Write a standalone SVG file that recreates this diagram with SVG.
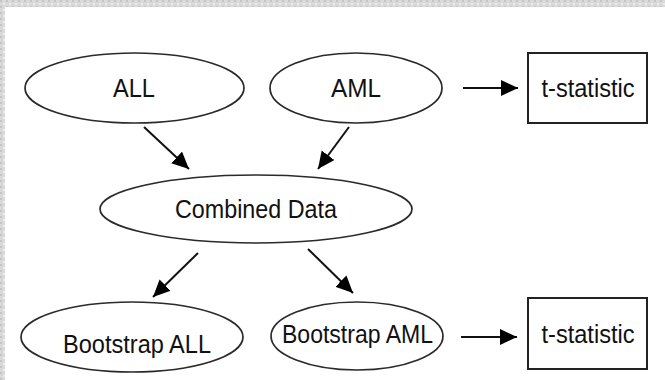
<svg xmlns="http://www.w3.org/2000/svg" width="665" height="380" viewBox="0 0 665 380">
  <defs>
    <pattern id="tex" width="6" height="6" patternUnits="userSpaceOnUse">
      <rect width="6" height="6" fill="#d9d9d9"/>
      <rect x="0" y="0" width="2" height="2" fill="#c4c4c4"/>
      <rect x="3" y="3" width="2" height="2" fill="#ececec"/>
    </pattern>
    <marker id="ah" markerUnits="userSpaceOnUse" markerWidth="19" markerHeight="17" refX="17" refY="8" orient="auto">
      <path d="M0,0 L17,8 L0,16 z" fill="#000"/>
    </marker>
    <style>
      .node ellipse { fill: #fff; stroke: #2a2a2a; stroke-width: 1.7; }
      .node rect { fill: #fff; stroke: #222; stroke-width: 2; }
      .node text { font-family: "Liberation Sans", Arial, sans-serif; font-size: 25px; fill: #111; text-anchor: middle; }
      #connectors line { stroke: #111; stroke-width: 2; marker-end: url(#ah); }
    </style>
  </defs>

  <rect x="0" y="0" width="665" height="380" fill="#fff"/>
  <rect x="0" y="0" width="665" height="7" fill="url(#tex)"/>
  <rect x="0" y="0" width="5" height="380" fill="url(#tex)"/>

  <g id="connectors">
    <line x1="144" y1="127" x2="189" y2="169"/>
    <line x1="349" y1="127" x2="318" y2="169"/>
    <line x1="198" y1="253" x2="153" y2="297"/>
    <line x1="308" y1="249" x2="353" y2="293"/>
    <line x1="463" y1="88" x2="518" y2="88"/>
    <line x1="461" y1="337" x2="517" y2="337"/>
  </g>

  <g id="all" class="node">
    <ellipse cx="134.5" cy="88" rx="109.5" ry="35"/>
    <text x="134" y="97" textLength="42" lengthAdjust="spacingAndGlyphs">ALL</text>
  </g>
  <g id="aml" class="node">
    <ellipse cx="356" cy="88" rx="86" ry="35"/>
    <text x="356" y="97" textLength="50" lengthAdjust="spacingAndGlyphs">AML</text>
  </g>
  <g id="tstat1" class="node">
    <rect x="528" y="53" width="119" height="70"/>
    <text x="588" y="97" textLength="93" lengthAdjust="spacingAndGlyphs">t-statistic</text>
  </g>
  <g id="combined" class="node">
    <ellipse cx="256" cy="209" rx="156" ry="34"/>
    <text x="256" y="218" textLength="162" lengthAdjust="spacingAndGlyphs">Combined Data</text>
  </g>
  <g id="bootall" class="node">
    <ellipse cx="132" cy="337" rx="111" ry="35"/>
    <text x="137" y="353" textLength="148" lengthAdjust="spacingAndGlyphs">Bootstrap ALL</text>
  </g>
  <g id="bootaml" class="node">
    <ellipse cx="357" cy="336" rx="86" ry="34"/>
    <text x="357.5" y="343" textLength="151" lengthAdjust="spacingAndGlyphs">Bootstrap AML</text>
  </g>
  <g id="tstat2" class="node">
    <rect x="528" y="298" width="119" height="71"/>
    <text x="588" y="343" textLength="93" lengthAdjust="spacingAndGlyphs">t-statistic</text>
  </g>
</svg>
